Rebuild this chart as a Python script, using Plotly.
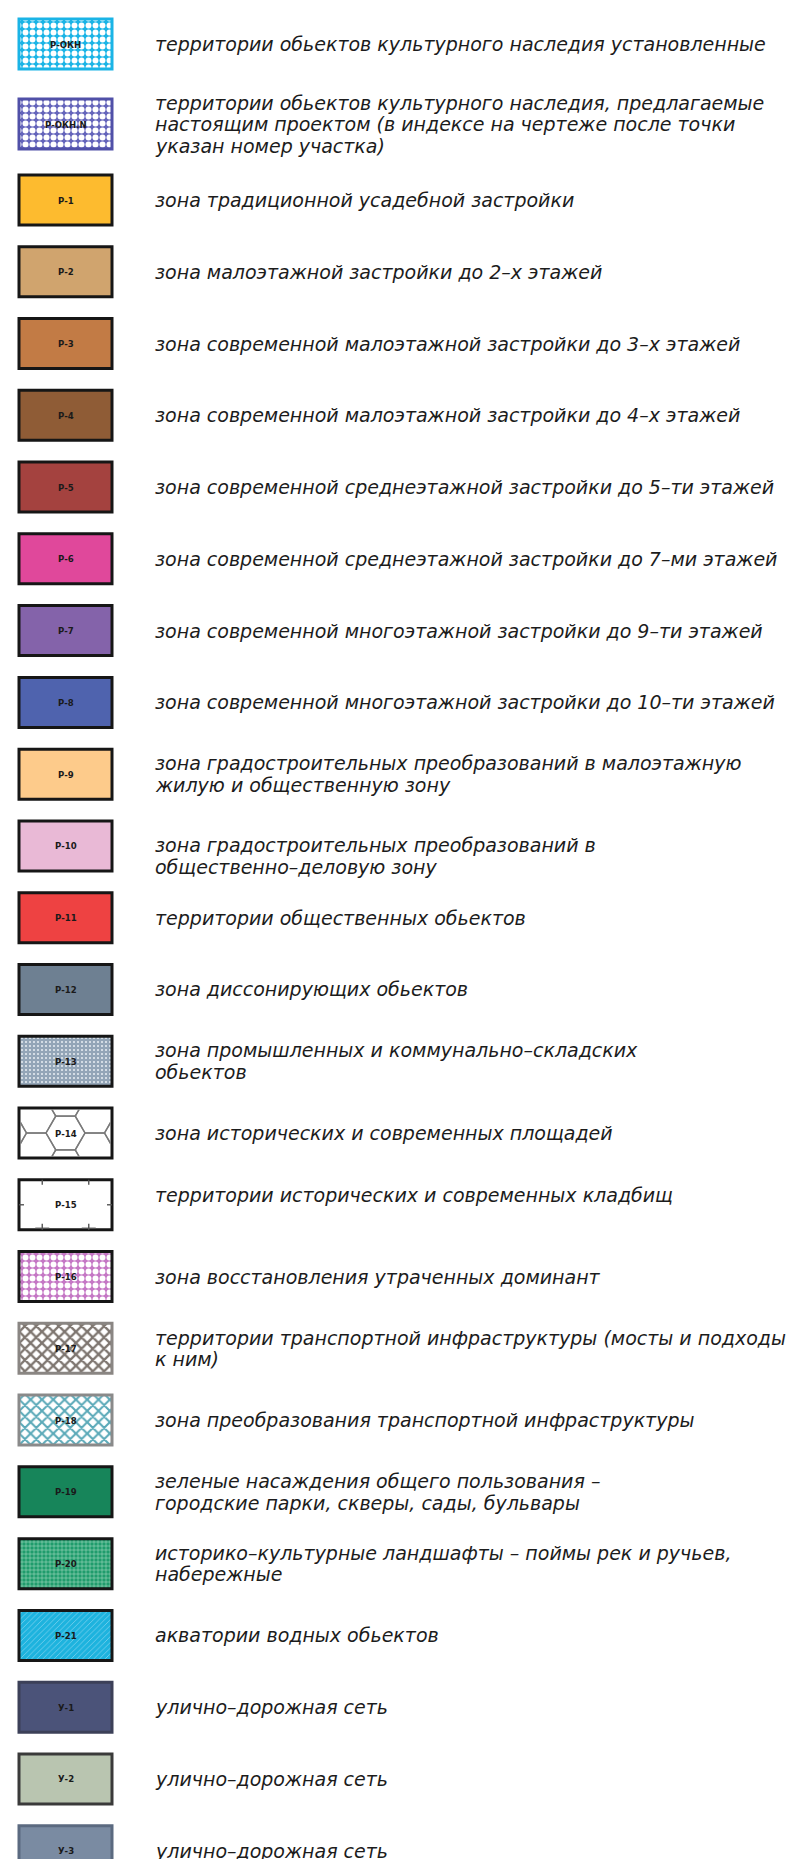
import math
import plotly.graph_objects as go

# ---------------- data ----------------
codes = ["Р-ОКН", "Р-ОКН.N", "Р-1", "Р-2", "Р-3", "Р-4", "Р-5", "Р-6", "Р-7", "Р-8",
         "Р-9", "Р-10", "Р-11", "Р-12", "Р-13", "Р-14", "Р-15", "Р-16", "Р-17", "Р-18",
         "Р-19", "Р-20", "Р-21", "У-1", "У-2", "У-3"]

descriptions = [
    "территории обьектов культурного наследия установленные",
    "территории обьектов культурного наследия, предлагаемые\nнастоящим проектом (в индексе на чертеже после точки\nуказан номер участка)",
    "зона традиционной усадебной застройки",
    "зона малоэтажной застройки до 2–х этажей",
    "зона современной малоэтажной застройки до 3–х этажей",
    "зона современной малоэтажной застройки до 4–х этажей",
    "зона современной среднеэтажной застройки до 5–ти этажей",
    "зона современной среднеэтажной застройки до 7–ми этажей",
    "зона современной многоэтажной застройки до 9–ти этажей",
    "зона современной многоэтажной застройки до 10–ти этажей",
    "зона градостроительных преобразований в малоэтажную\nжилую и общественную зону",
    "зона градостроительных преобразований в\nобщественно–деловую зону",
    "территории общественных обьектов",
    "зона диссонирующих обьектов",
    "зона промышленных и коммунально–складских\nобьектов",
    "зона исторических и современных площадей",
    "территории исторических и современных кладбищ",
    "зона восстановления утраченных доминант",
    "территории транспортной инфраструктуры (мосты и подходы\nк ним)",
    "зона преобразования транспортной инфраструктуры",
    "зеленые насаждения общего пользования –\nгородские парки, скверы, сады, бульвары",
    "историко–культурные ландшафты – поймы рек и ручьев,\nнабережные",
    "акватории водных обьектов",
    "улично–дорожная сеть",
    "улично–дорожная сеть",
    "улично–дорожная сеть",
]

fill_colors = ["#1ab4e6", "#6464bb", "#fdbb2f", "#d0a46e", "#c27b45", "#8f5c36",
               "#a4423f", "#e0489b", "#8463aa", "#4f63ae", "#fdcb8b", "#e9b9d6",
               "#ee4242", "#6e8092", "#93a5b7", "#ffffff", "#ffffff", "#c577c5",
               "#ffffff", "#ffffff", "#17855a", "#1f9c6c", "#1db3de", "#4b5379",
               "#b9c5b0", "#7a8ba2"]

pattern_shapes = [".", ".", "", "", "", "", "", "", "", "", "", "", "", "", ".", "", "",
                  ".", "x", "x", "", "+", "/", "", "", ""]

pattern_colors = ["#ffffff", "#ffffff", "", "", "", "", "", "", "", "", "", "", "", "",
                  "#e4eaf0", "", "", "#ffffff", "#7e7670", "#5aa9b8", "", "#dff3e8",
                  "#74cdec", "", "", ""]

border_colors = ["#1ab4e6", "#5050a8", "#161616", "#161616", "#161616", "#161616",
                 "#161616", "#161616", "#161616", "#161616", "#161616", "#161616",
                 "#161616", "#161616", "#161616", "#161616", "#161616", "#161616",
                 "#8a8683", "#8a8a8a", "#161616", "#161616", "#161616", "#3c4058",
                 "#3a3a3a", "#5b6a80"]

# ---------------- layout geometry (styling) ----------------
W, H = 808, 1859
SW_X0, SW_W, SW_H = 11, 93, 50
TEXT_X = 145
ROW_Y0, ROW_STEP = 192, 71.77
HEAD_Y = {0: 36, 1: 116}
LINE_H = 21.5
TEXT_SHIFT = {"Р-10": 10, "Р-15": -10}
PATTERN_STYLE = {
    "Р-ОКН": (7, 0.55), "Р-ОКН.N": (7, 0.58), "Р-13": (4, 0.22), "Р-16": (7, 0.55),
    "Р-17": (8, 0.5), "Р-18": (8, 0.45), "Р-20": (4, 0.18), "Р-21": (4, 0.22),
}


def row_center(i):
    return HEAD_Y.get(i, ROW_Y0 + (i - 2) * ROW_STEP)


centers = [row_center(i) for i in range(len(codes))]

fig = go.Figure()

for i, code in enumerate(codes):
    shp = pattern_shapes[i]
    marker = dict(color=fill_colors[i], line=dict(color=border_colors[i], width=3))
    if shp:
        size, sol = PATTERN_STYLE[code]
        marker["pattern"] = dict(shape=shp, fgcolor=pattern_colors[i], bgcolor=fill_colors[i],
                                 size=size, solidity=sol, fillmode="replace")
    fig.add_trace(go.Bar(
        orientation="h", y=[centers[i]], x=[SW_W], base=[SW_X0], width=[SW_H],
        marker=marker, hoverinfo="skip", showlegend=False, name=code,
    ))


# --- hexagon net for Р-14 (decoration clipped to swatch) ---
def clip_segment(x1, y1, x2, y2, xmin, xmax, ymin, ymax):
    dx, dy = x2 - x1, y2 - y1
    t0, t1 = 0.0, 1.0
    for p, q in ((-dx, x1 - xmin), (dx, xmax - x1), (-dy, y1 - ymin), (dy, ymax - y1)):
        if p == 0:
            if q < 0:
                return None
        else:
            t = q / p
            if p < 0:
                t0 = max(t0, t)
            else:
                t1 = min(t1, t)
    if t0 > t1:
        return None
    return (x1 + t0 * dx, y1 + t0 * dy, x1 + t1 * dx, y1 + t1 * dy)


i14 = codes.index("Р-14")
cy14 = centers[i14]
xmin, xmax = SW_X0, SW_X0 + SW_W
ymin, ymax = cy14 - SW_H / 2, cy14 + SW_H / 2
R = 19.5
hh = math.sqrt(3) / 2 * R
cx_c = SW_X0 + SW_W / 2
hx, hy = [], []
for col in range(-3, 4):
    for rowk in range(-2, 3):
        cx = cx_c + col * 1.5 * R
        cy = cy14 + rowk * 2 * hh + (hh if col % 2 else 0)
        pts = [(cx + R * math.cos(math.radians(a)), cy + R * math.sin(math.radians(a)))
               for a in range(0, 361, 60)]
        for (ax, ay), (bx, by) in zip(pts[:-1], pts[1:]):
            seg = clip_segment(ax, ay, bx, by, xmin + 1.5, xmax - 1.5, ymin + 1.5, ymax - 1.5)
            if seg:
                hx += [seg[0], seg[2], None]
                hy += [seg[1], seg[3], None]
fig.add_trace(go.Scatter(x=hx, y=hy, mode="lines", line=dict(color="#7a7a7a", width=1.4),
                         hoverinfo="skip", showlegend=False))

# --- cemetery tick marks for Р-15 ---
i15 = codes.index("Р-15")
cy15 = centers[i15]
t_top, t_bot = cy15 - SW_H / 2, cy15 + SW_H / 2
tx, ty = [], []
for fx in (0.25, 0.75):
    x = SW_X0 + fx * SW_W
    tx += [x, x, None]; ty += [t_top, t_top + 5, None]
    tx += [x, x, None]; ty += [t_bot, t_bot - 6, None]
    tx += [x - 7, x + 7, None]; ty += [t_bot - 1.5, t_bot - 1.5, None]
for x0, x1 in ((SW_X0, SW_X0 + 5), (SW_X0 + SW_W - 5, SW_X0 + SW_W)):
    tx += [x0, x1, None]; ty += [cy15, cy15, None]
fig.add_trace(go.Scatter(x=tx, y=ty, mode="lines", line=dict(color="#555555", width=1.4),
                         hoverinfo="skip", showlegend=False))

annotations = []
for i, (code, desc) in enumerate(zip(codes, descriptions)):
    cy = centers[i]
    annotations.append(dict(
        x=SW_X0 + SW_W / 2, y=cy, xref="x", yref="y", text=f"<b>{code}</b>",
        showarrow=False, xanchor="center", yanchor="middle",
        font=dict(family="DejaVu Sans Condensed, DejaVu Sans, Arial Narrow", size=9.5, color="#1a1a1a"),
    ))
    lines = desc.split("\n")
    n = len(lines)
    shift = TEXT_SHIFT.get(code, 0)
    for k, line in enumerate(lines):
        annotations.append(dict(
            x=TEXT_X, y=cy + (k - (n - 1) / 2) * LINE_H + shift, xref="x", yref="y",
            text=line, showarrow=False, xanchor="left", yanchor="middle",
            font=dict(family="DejaVu Sans, Verdana, sans-serif", size=19, color="#1c1c1c",
                      style="italic"),
        ))

fig.update_layout(
    width=W, height=H,
    margin=dict(l=0, r=0, t=0, b=0),
    paper_bgcolor="white", plot_bgcolor="white",
    xaxis=dict(range=[0, W], visible=False, fixedrange=True),
    yaxis=dict(range=[H, 0], visible=False, fixedrange=True),
    annotations=annotations,
    barmode="overlay",
)

fig.write_html("out.html")
